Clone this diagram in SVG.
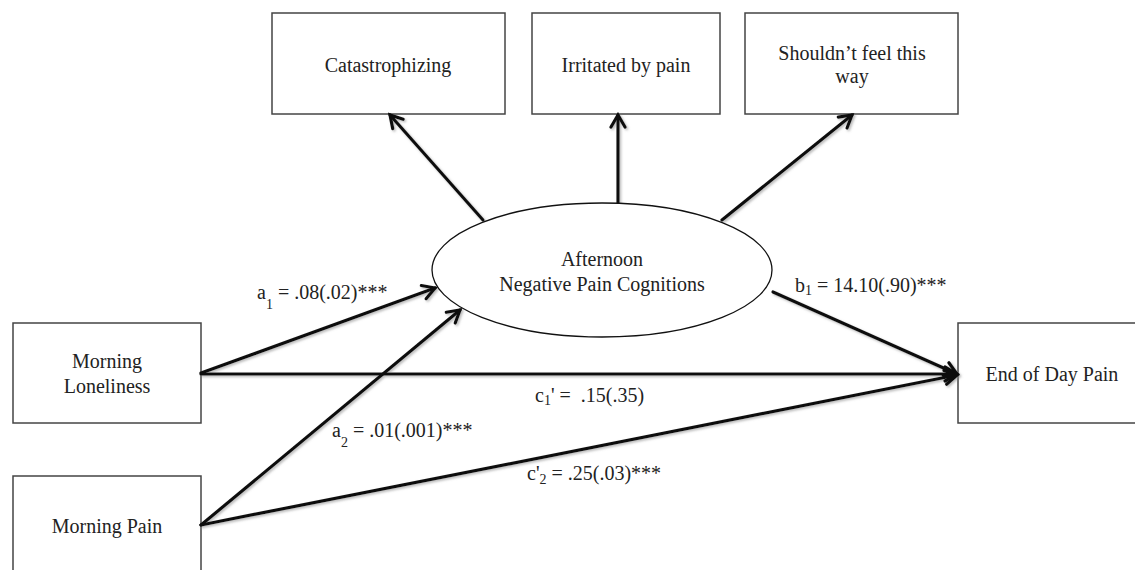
<svg xmlns="http://www.w3.org/2000/svg" width="1135" height="570" viewBox="0 0 1135 570">
<style>
.box{fill:#fff;stroke:#444;stroke-width:1.5}
.ell{fill:#fff;stroke:#111;stroke-width:1.3}
.t{font-family:"Liberation Serif","Times New Roman",serif;font-size:20px;fill:#222}
.c{text-anchor:middle}
.arr{stroke:#111;stroke-width:3.2;fill:none;stroke-linecap:round;marker-end:url(#ah)}
</style>
<defs>
<marker id="ah" markerUnits="userSpaceOnUse" markerWidth="20" markerHeight="20" viewBox="0 0 20 20" refX="17" refY="10" orient="auto">
<path d="M5,3 L17,10 L5,17" fill="none" stroke="#111" stroke-width="3.2" stroke-linejoin="miter" stroke-linecap="round"/>
</marker>
<filter id="sh" x="-10%" y="-10%" width="120%" height="120%">
<feDropShadow dx="1.5" dy="1.5" stdDeviation="1" flood-color="#888" flood-opacity="0.6"/>
</filter>
</defs>
<rect width="1135" height="570" fill="#fff"/>
<g id="catastrophizing"><rect class="box" x="272" y="13" width="233" height="101"/><text class="t c" x="388" y="72">Catastrophizing</text></g>
<g id="irritated"><rect class="box" x="532" y="13" width="188" height="101"/><text class="t c" x="626" y="72">Irritated by pain</text></g>
<g id="shouldnt"><rect class="box" x="745" y="13" width="213" height="101"/><text class="t c" x="852" y="60">Shouldn’t feel this</text><text class="t c" x="852" y="83">way</text></g>
<g id="loneliness"><rect class="box" x="13" y="323" width="188" height="100"/><text class="t c" x="107" y="368">Morning</text><text class="t c" x="107" y="393">Loneliness</text></g>
<g id="morningpain"><rect class="box" x="13" y="476" width="188" height="110"/><text class="t c" x="107" y="533">Morning Pain</text></g>
<g id="endofday"><rect class="box" x="958" y="323" width="190" height="100"/><text class="t c" x="1052" y="381">End of Day Pain</text></g>
<g id="connectors" filter="url(#sh)">
<line class="arr" x1="483" y1="220" x2="390" y2="115"/>
<line class="arr" x1="618" y1="203" x2="618" y2="115"/>
<line class="arr" x1="722" y1="220" x2="852" y2="115"/>
<line class="arr" x1="201" y1="373" x2="435" y2="288"/>
<line class="arr" x1="201" y1="525" x2="460" y2="310"/>
<line class="arr" x1="201" y1="374" x2="957" y2="374"/>
<line class="arr" x1="773" y1="292" x2="957" y2="374"/>
<line class="arr" x1="201" y1="525" x2="957" y2="375"/>
</g>
<g id="mediator"><ellipse class="ell" cx="602" cy="270" rx="170" ry="67"/><text class="t c" x="602" y="266">Afternoon</text><text class="t c" x="602" y="291">Negative Pain Cognitions</text></g>
<g id="labels">
<text class="t" x="257" y="299">a<tspan font-size="14" dy="10">1</tspan><tspan dy="-10"> = .08(.02)***</tspan></text>
<text class="t" x="332" y="437">a<tspan font-size="14" dy="10">2</tspan><tspan dy="-10"> = .01(.001)***</tspan></text>
<text class="t" x="795" y="292">b<tspan font-size="14" dy="3">1</tspan><tspan dy="-3"> = 14.10(.90)***</tspan></text>
<text class="t" x="535" y="402">c<tspan font-size="14" dy="3">1</tspan><tspan dy="-3">' =&#160; .15(.35)</tspan></text>
<text class="t" x="527" y="480">c'<tspan font-size="14" dy="4">2</tspan><tspan dy="-4"> = .25(.03)***</tspan></text>
</g>
</svg>
